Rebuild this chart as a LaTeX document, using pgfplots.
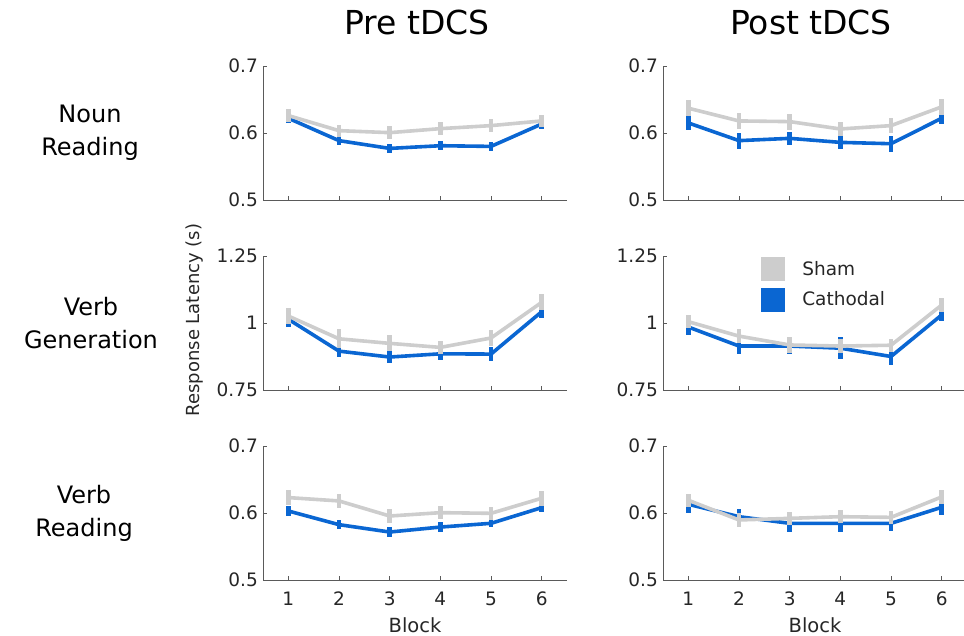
\documentclass[border=0pt]{standalone}
\usepackage{pgfplots}
\pgfplotsset{compat=1.18}
\usepackage{fontspec}
\setmainfont{DejaVu Sans}
\definecolor{cblue}{RGB}{10,102,210}
\definecolor{cgray}{RGB}{205,205,205}
\definecolor{axgray}{RGB}{90,90,90}

% Pre tDCS, Noun Reading
\pgfplotstableread{
x  sham   serr   cath   cerr
1  0.626  0.010  0.622  0.007
2  0.6035 0.009  0.5886 0.007
3  0.6005 0.010  0.577  0.007
4  0.6065 0.010  0.581  0.007
5  0.611  0.010  0.580  0.007
6  0.618  0.009  0.6134 0.007
}\preNR
\pgfplotstableread{
x  sham   serr   cath   cerr
1  0.637  0.012  0.615  0.010
2  0.618  0.012  0.5886 0.012
3  0.617  0.012  0.592  0.010
4  0.606  0.011  0.586  0.010
5  0.611  0.011  0.584  0.012
6  0.639  0.012  0.622  0.009
}\postNR
\pgfplotstableread{
x  sham   serr   cath   cerr
1  1.026  0.030  1.014  0.030
2  0.941  0.035  0.895  0.022
3  0.924  0.030  0.873  0.022
4  0.909  0.025  0.885  0.022
5  0.944  0.030  0.884  0.025
6  1.077  0.030  1.042  0.022
}\preVG
\pgfplotstableread{
x  sham   serr   cath   cerr
1  1.005  0.025  0.985  0.030
2  0.951  0.025  0.914  0.030
3  0.918  0.030  0.914  0.030
4  0.914  0.025  0.906  0.040
5  0.917  0.025  0.875  0.030
6  1.067  0.025  1.030  0.022
}\postVG
\pgfplotstableread{
x  sham   serr   cath   cerr
1  0.623  0.011  0.603  0.007
2  0.618  0.010  0.5826 0.007
3  0.5955 0.011  0.5716 0.007
4  0.6005 0.010  0.579  0.007
5  0.5995 0.010  0.5846 0.006
6  0.622  0.011  0.608  0.006
}\preVR
\pgfplotstableread{
x  sham   serr   cath   cerr
1  0.619  0.010  0.613  0.013
2  0.5896 0.010  0.5945 0.012
3  0.592  0.010  0.5846 0.013
4  0.5945 0.010  0.5846 0.013
5  0.5935 0.010  0.5846 0.012
6  0.624  0.011  0.6085 0.012
}\postVR

\pgfplotsset{
  panel/.style={
    scale only axis, width=304bp, height=134bp, anchor=south west,
    xmin=0.5, xmax=6.5,
    axis x line*=bottom, axis y line*=left,
    axis line style={axgray, line width=0.9bp, -},
    tick align=inside, major tick length=4bp,
    tick style={axgray, line width=0.9bp},
    xtick={1,2,3,4,5,6}, xticklabels={},
    tick label style={font=\fontsize{18.5bp}{22bp}\selectfont, text=black!85},
    yticklabel style={inner sep=0pt, anchor=east, xshift=-5bp},
    xticklabel style={inner sep=0pt, anchor=north, yshift=-12bp},
    clip=false,
  },
  lowpanel/.style={panel, ymin=0.5, ymax=0.7, ytick={0.5,0.6,0.7}, yticklabels={0.5,0.6,0.7}},
  vgpanel/.style={panel, ymin=0.75, ymax=1.25, ytick={0.75,1,1.25}, yticklabels={0.75,1,1.25}},
  cathplot/.style={cblue, line width=3.6bp, no markers, forget plot,
    error bars/.cd, y dir=both, y explicit, error mark=none,
    error bar style={cblue, line width=4.4bp}},
  shamplot/.style={cgray, line width=3.6bp, no markers, forget plot,
    error bars/.cd, y dir=both, y explicit, error mark=none,
    error bar style={cgray, line width=4.4bp}},
}

\newcommand{\twoplots}[1]{%
  \addplot[cathplot] table[x=x, y=cath, y error=cerr] {#1};
  \addplot[shamplot] table[x=x, y=sham, y error=serr] {#1};
}

\begin{document}
\begin{tikzpicture}
\useasboundingbox (0,0) rectangle (964bp,636bp);

% row 1
\begin{axis}[lowpanel, at={(263bp,436bp)}]
\twoplots{\preNR}
\end{axis}
\begin{axis}[lowpanel, at={(663bp,436bp)}]
\twoplots{\postNR}
\end{axis}

% row 2
\begin{axis}[vgpanel, at={(263bp,246bp)}]
\twoplots{\preVG}
\end{axis}
\begin{axis}[vgpanel, at={(663bp,246bp)},
  legend style={draw=none, fill=none, at={(rel axis cs:0.322,0.99)}, anchor=north west,
    inner sep=0pt, outer sep=0pt, row sep=7bp, column sep=18bp,
    font=\fontsize{18.5bp}{22bp}\selectfont, text=black!85,
    nodes={inner sep=0pt}},
  legend cell align=left]
\twoplots{\postVG}
\addlegendimage{legend image code/.code={\fill[cgray] (0bp,-11.5bp) rectangle (23bp,11.5bp);}}
\addlegendentry{Sham}
\addlegendimage{legend image code/.code={\fill[cblue] (0bp,-11.5bp) rectangle (23bp,11.5bp);}}
\addlegendentry{Cathodal}
\end{axis}

% row 3
\begin{axis}[lowpanel, at={(263bp,56bp)}, xticklabels={1,2,3,4,5,6}]
\twoplots{\preVR}
\end{axis}
\begin{axis}[lowpanel, at={(663bp,56bp)}, xticklabels={1,2,3,4,5,6}]
\twoplots{\postVR}
\end{axis}

% titles and labels
\begin{scope}[every node/.style={text=black}]
\node[font=\fontsize{33bp}{38bp}\selectfont] at (417bp,614bp) {Pre tDCS};
\node[font=\fontsize{33bp}{38bp}\selectfont] at (811bp,614bp) {Post tDCS};
\node[font=\fontsize{24bp}{33bp}\selectfont, align=center] at (90bp,503bp) {Noun\\Reading};
\node[font=\fontsize{24bp}{33bp}\selectfont, align=center] at (91bp,313bp) {Verb\\Generation};
\node[font=\fontsize{24bp}{33bp}\selectfont, align=center] at (84bp,123bp) {Verb\\Reading};
\node[font=\fontsize{18bp}{22bp}\selectfont, rotate=90, text=black!85] at (195bp,316bp) {Response Latency (s)};
\node[font=\fontsize{19.5bp}{22bp}\selectfont, text=black!85] at (415bp,11bp) {Block};
\node[font=\fontsize{19.5bp}{22bp}\selectfont, text=black!85] at (815bp,11bp) {Block};
\end{scope}
\end{tikzpicture}
\end{document}
